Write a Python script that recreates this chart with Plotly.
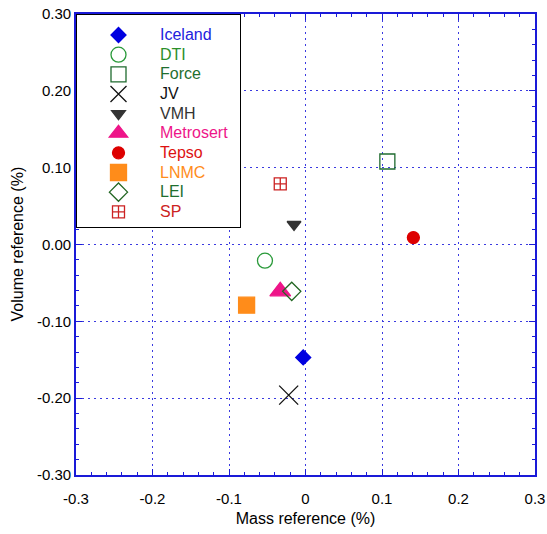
import plotly.graph_objects as go

# Data (mass reference %, volume reference %)
labs = ["Iceland", "DTI", "Force", "JV", "VMH", "Metrosert", "Tepso", "LNMC", "LEI", "SP"]
mass = [-0.003, -0.053, 0.107, -0.022, -0.015, -0.033, 0.141, -0.077, -0.018, -0.033]
volume = [-0.147, -0.021, 0.108, -0.196, 0.026, -0.061, 0.009, -0.079, -0.061, 0.079]

x_ticks = [-0.3, -0.2, -0.1, 0, 0.1, 0.2, 0.3]
x_ticktext = ["-0.3", "-0.2", "-0.1", "0", "0.1", "0.2", "0.3"]
y_ticks = [0.3, 0.2, 0.1, 0.0, -0.1, -0.2, -0.3]
y_ticktext = ["0.30", "0.20", "0.10", "0.00", "-0.10", "-0.20", "-0.30"]

# Styles
symbols = ["diamond", "circle-open", "square-open", "x-thin-open", "triangle-down",
           "triangle-up", "circle", "square", "diamond-open", "square-cross-open"]
sizes = [11.5, 15, 15, 19, 12, 18, 12, 16, 14, 12]
mcolors = ["#0000e0", "#2a9a3a", "#1f6b2f", "#111111", "#333333",
           "#ee1589", "#dd0000", "#ff8c1a", "#226622", "#cc2222"]
tcolors = ["#2222dd", "#2a8f2a", "#1f6f2f", "#111111", "#333333",
           "#ee1589", "#dd1111", "#ff8c1a", "#1f6f2f", "#cc2222"]

fig = go.Figure()
for i, n in enumerate(labs):
    pad = "&nbsp;&nbsp;" if n == "Metrosert" else ""
    fig.add_trace(go.Scatter(
        x=[mass[i]], y=[volume[i]], mode="markers",
        name=f"<span style='color:{tcolors[i]};font-size:16px'>{n}</span>{pad}",
        marker=dict(symbol=symbols[i], size=sizes[i], color=mcolors[i],
                    line=dict(color=mcolors[i], width=1.3)),
    ))

blue = "#1a1ad8"
grid = "#3a3ae0"
axis_common = dict(
    range=[-0.3, 0.3], automargin=False,
    showline=True, linecolor=blue, linewidth=1.6, mirror="allticks",
    ticks="inside", ticklen=6, tickcolor=blue, tickwidth=1,
    showgrid=True, gridcolor=grid, griddash="2px,4px", gridwidth=1,
    zeroline=False,
    minor=dict(dtick=0.02, ticks="inside", ticklen=3, tickcolor=blue, showgrid=False),
    tickfont=dict(size=15),
)
fig.update_xaxes(tickvals=x_ticks, ticktext=x_ticktext, ticklabelstandoff=9,
                 title=dict(text="Mass reference (%)", font=dict(size=16), standoff=7),
                 **axis_common)
fig.update_yaxes(tickvals=y_ticks, ticktext=y_ticktext, **axis_common)
fig.add_annotation(text="Volume reference (%)", textangle=-90, showarrow=False,
                   xref="paper", yref="paper", x=-59 / 459, y=0.5,
                   xanchor="center", yanchor="middle", font=dict(size=16))
fig.update_layout(
    width=547, height=534,
    margin=dict(l=76, r=12, t=14, b=59),
    paper_bgcolor="white", plot_bgcolor="white",
    font=dict(family="Liberation Sans, Arial, sans-serif", color="black", size=15),
    legend=dict(x=0, y=1, xanchor="left", yanchor="top", bgcolor="white",
                bordercolor="black", borderwidth=1, itemwidth=73,
                font=dict(size=12.8), tracegroupgap=0,
                title=dict(text="&nbsp;", font=dict(size=4))),
)
fig.write_html("out.html", post_script="document.body.style.margin='0';",
               config={"displayModeBar": False})
